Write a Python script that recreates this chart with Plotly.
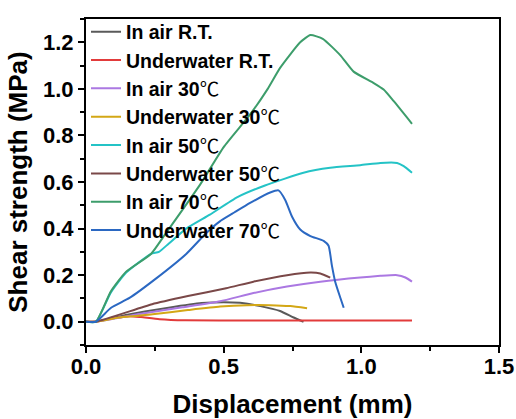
import plotly.graph_objects as go

# ---- data (Displacement mm, Shear strength MPa) ----
air_rt_x = [0, 0.036, 0.15, 0.30, 0.42, 0.50, 0.56, 0.633, 0.705, 0.754, 0.79]
air_rt_y = [0, 0, 0.03, 0.06, 0.08, 0.084, 0.081, 0.067, 0.046, 0.018, 0.0]

uw_rt_x = [0, 0.036, 0.10, 0.16, 0.20, 0.267, 0.36, 0.60, 0.90, 1.184]
uw_rt_y = [0, 0, 0.015, 0.024, 0.020, 0.011, 0.006, 0.005, 0.005, 0.005]

air_30_x = [0, 0.036, 0.20, 0.35, 0.487, 0.608, 0.73, 0.851, 0.996, 1.069, 1.13, 1.16, 1.184]
air_30_y = [0, 0, 0.034, 0.062, 0.088, 0.123, 0.151, 0.172, 0.190, 0.197, 0.200, 0.190, 0.172]

uw_30_x = [0, 0.036, 0.12, 0.242, 0.37, 0.487, 0.584, 0.669, 0.742, 0.803]
uw_30_y = [0, 0, 0.018, 0.032, 0.050, 0.065, 0.071, 0.071, 0.067, 0.058]

air_50_x = [0, 0.036, 0.09, 0.145, 0.236, 0.265, 0.30, 0.364, 0.45, 0.55, 0.65, 0.79, 0.887, 0.996, 1.069, 1.13, 1.154, 1.184]
air_50_y = [0, 0, 0.125, 0.21, 0.291, 0.300, 0.335, 0.40, 0.46, 0.535, 0.585, 0.640, 0.661, 0.672, 0.682, 0.682, 0.668, 0.640]

uw_50_x = [0, 0.036, 0.24, 0.37, 0.509, 0.608, 0.73, 0.815, 0.851, 0.887]
uw_50_y = [0, 0, 0.075, 0.11, 0.144, 0.172, 0.200, 0.211, 0.207, 0.189]

air_70_x = [0, 0.036, 0.09, 0.145, 0.236, 0.29, 0.415, 0.50, 0.596, 0.66, 0.705, 0.778, 0.815, 0.86, 0.924, 0.972, 1.045, 1.081, 1.117, 1.184]
air_70_y = [0, 0, 0.13, 0.214, 0.291, 0.38, 0.59, 0.75, 0.89, 1.00, 1.09, 1.20, 1.231, 1.215, 1.144, 1.074, 1.025, 0.997, 0.948, 0.85]

uw_70_x = [0, 0.036, 0.091, 0.158, 0.255, 0.364, 0.436, 0.485, 0.54, 0.596, 0.669, 0.699, 0.724, 0.748, 0.778, 0.815, 0.863, 0.881, 0.893, 0.905, 0.924, 0.936]
uw_70_y = [0, 0, 0.06, 0.102, 0.186, 0.291, 0.38, 0.43, 0.47, 0.51, 0.555, 0.564, 0.522, 0.452, 0.396, 0.368, 0.347, 0.326, 0.242, 0.172, 0.102, 0.06]

deg = '<span style="font-family:Noto Sans CJK SC">℃</span>'
names = ["<b>In air R.T.</b>", "<b>Underwater R.T.</b>",
         "<b>In air 30</b>" + deg, "<b>Underwater 30</b>" + deg,
         "<b>In air 50</b>" + deg, "<b>Underwater 50</b>" + deg,
         "<b>In air 70</b>" + deg, "<b>Underwater 70</b>" + deg]
colors = ["#5a5a5a", "#e23b3b", "#ab78e2", "#d3a716",
          "#24c3c6", "#7a4848", "#3d9d6b", "#2b68c2"]
xs = [air_rt_x, uw_rt_x, air_30_x, uw_30_x, air_50_x, uw_50_x, air_70_x, uw_70_x]
ys = [air_rt_y, uw_rt_y, air_30_y, uw_30_y, air_50_y, uw_50_y, air_70_y, uw_70_y]

fig = go.Figure()
for n, c, x, y in zip(names, colors, xs, ys):
    fig.add_trace(go.Scatter(x=x, y=y, mode="lines", name=n,
                             line=dict(color=c, width=2, shape="spline", smoothing=0.5)))

axis_common = dict(showline=True, linecolor="black", linewidth=2, mirror=True,
                   ticks="outside", ticklen=6, tickwidth=2, tickcolor="black",
                   showgrid=False, zeroline=False, automargin=False,
                   tickfont=dict(family="Liberation Sans", size=22, color="black", weight="bold"))

fig.update_xaxes(range=[0, 1.5], dtick=0.5, tickformat=".1f", ticklabelstandoff=-5,
                 minor=dict(dtick=0.25, ticks="outside", ticklen=4, tickwidth=2, tickcolor="black"),
                 title=dict(text="Displacement (mm)", standoff=19,
                            font=dict(family="Liberation Sans", size=26, color="black", weight="bold")),
                 **axis_common)
fig.update_yaxes(range=[-0.1, 1.3], tick0=0, dtick=0.2, tickformat=".1f",
                 minor=dict(dtick=0.1, ticks="outside", ticklen=4, tickwidth=2, tickcolor="black"),
                 title=dict(text="Shear strength (MPa)", standoff=8,
                            font=dict(family="Liberation Sans", size=26, color="black", weight="bold")),
                 **axis_common)

fig.update_layout(
    width=516, height=419,
    margin=dict(l=86, r=17, t=12, b=74),
    paper_bgcolor="white", plot_bgcolor="white",
    showlegend=True,
    legend=dict(x=0, y=1.02, xanchor="left", yanchor="top", bgcolor="rgba(0,0,0,0)",
                font=dict(family="Liberation Sans", size=19.5, color="black"),
                tracegroupgap=0, itemwidth=30, maxheight=400),
)

fig.write_html("out.html")
